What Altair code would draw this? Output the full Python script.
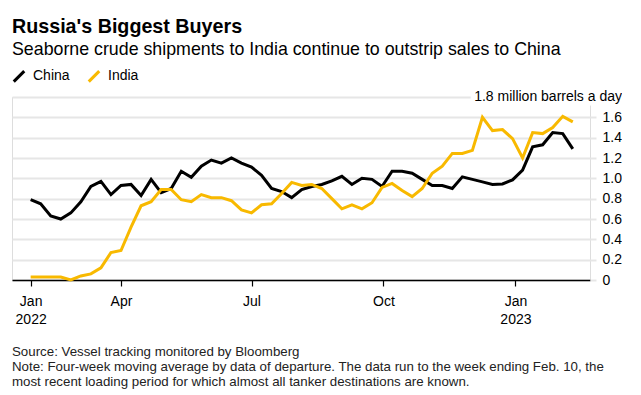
import altair as alt
import pandas as pd

# ---- data ----
start_date = "2022-01-28"  # weekly, weeks ending Friday, through 2023-02-10
china = [0.79, 0.75, 0.63, 0.60, 0.66, 0.77, 0.92, 0.97, 0.84, 0.93,
         0.94, 0.83, 0.99, 0.86, 0.90, 1.07, 1.01, 1.12, 1.18, 1.15,
         1.20, 1.15, 1.11, 1.03, 0.90, 0.87, 0.81, 0.89, 0.92, 0.94,
         0.975, 1.02, 0.94, 1.00, 0.99, 0.92, 1.07, 1.07, 1.05, 0.99,
         0.93, 0.93, 0.90, 1.015, 0.99, 0.965, 0.94, 0.945, 0.985, 1.08,
         1.31, 1.33, 1.45, 1.44, 1.29]
india = [0.03, 0.03, 0.03, 0.03, 0.0, 0.04, 0.06, 0.12, 0.27, 0.29,
         0.52, 0.73, 0.77, 0.89, 0.89, 0.79, 0.77, 0.84, 0.81, 0.81,
         0.78, 0.69, 0.66, 0.74, 0.75, 0.85, 0.96, 0.93, 0.94, 0.90,
         0.80, 0.70, 0.74, 0.70, 0.76, 0.91, 0.95, 0.88, 0.82, 0.90,
         1.05, 1.12, 1.245, 1.245, 1.275, 1.60, 1.47, 1.48, 1.39, 1.20,
         1.45, 1.44, 1.50, 1.61, 1.555]
series_names = ["China", "India"]
series_colors = ["#000000", "#f8b900"]
y_ticks = [0, 0.2, 0.4, 0.6, 0.8, 1.0, 1.2, 1.4, 1.6, 1.8]
unit_label = "1.8 million barrels a day"
title = "Russia's Biggest Buyers"
subtitle = "Seaborne crude shipments to India continue to outstrip sales to China"
footnote = ("Source: Vessel tracking monitored by Bloomberg\n"
            "Note: Four-week moving average by data of departure. The data run to the week ending Feb. 10, the\n"
            "most recent loading period for which almost all tanker destinations are known.")

dates = pd.date_range(start_date, periods=len(china), freq="7D")
df = pd.concat([
    pd.DataFrame({"date": dates.strftime("%Y-%m-%d"), "value": china, "series": "China"}),
    pd.DataFrame({"date": dates.strftime("%Y-%m-%d"), "value": india, "series": "India"}),
])

FONT = "Liberation Sans"
W, H = 578, 183

x_scale = alt.Scale(type="utc", domain=[alt.DateTime(year=2022, month=1, date=15, utc=True),
                                        alt.DateTime(year=2023, month=2, date=22, utc=True)])
y_scale = alt.Scale(domain=[0, 1.8], nice=False, zero=True)

x_axis = alt.Axis(
    values=[alt.DateTime(year=2022, month=1, date=28, utc=True),
            alt.DateTime(year=2022, month=4, date=1, utc=True),
            alt.DateTime(year=2022, month=7, date=1, utc=True),
            alt.DateTime(year=2022, month=10, date=1, utc=True),
            alt.DateTime(year=2023, month=1, date=1, utc=True)],
    labelExpr="utcmonth(datum.value) == 0 ? [utcFormat(datum.value, '%b'), utcFormat(datum.value, '%Y')] : utcFormat(datum.value, '%b')",
    title=None, grid=False, domainColor="#000", domainWidth=1.5,
    tickColor="#000", tickSize=6, tickWidth=1.2,
    labelFont=FONT, labelFontSize=14, labelColor="#000", labelPadding=8,
    labelLineHeight=18, labelFlush=False, labelOverlap=False,
)
y_axis = alt.Axis(
    orient="right", values=y_ticks, title=None, domain=False,
    labelExpr="datum.value >= 1.79 ? '' : (datum.value == 0 ? '0' : format(datum.value, '.1f'))",
    grid=True, gridColor="#e6e6e6", gridWidth=2,
    tickColor="#e6e6e6", tickSize=6, tickWidth=2,
    labelFont=FONT, labelFontSize=14, labelColor="#000", labelPadding=6, labelAlign="left",
    labelOverlap=False,
)

lines = alt.Chart(df).mark_line(strokeWidth=3).encode(
    x=alt.X("date:T", scale=x_scale, axis=x_axis),
    y=alt.Y("value:Q", scale=y_scale, axis=y_axis),
    color=alt.Color("series:N", scale=alt.Scale(domain=series_names, range=series_colors),
                    legend=alt.Legend(
                        title=None, orient="none", legendX=0, legendY=-28, direction="horizontal",
                        symbolType="M-1,1L1,-1", symbolSize=110, symbolStrokeWidth=3,
                        labelFont=FONT, labelFontSize=14, labelColor="#000",
                        columnPadding=12, labelOffset=7, padding=0)),
)

unit_df = pd.DataFrame({"t": [unit_label], "value": [1.8]})
unit_halo = alt.Chart(unit_df).mark_text(
    align="right", baseline="middle", font=FONT, fontSize=14,
    stroke="white", strokeWidth=9, fill="white",
).encode(x=alt.value(W + 32), y=alt.Y("value:Q", scale=y_scale, axis=y_axis), text="t:N")
unit_text = alt.Chart(unit_df).mark_text(
    align="right", baseline="middle", font=FONT, fontSize=14, color="#000",
).encode(x=alt.value(W + 32), y=alt.Y("value:Q", scale=y_scale, axis=y_axis), text="t:N")

note_df = pd.DataFrame({"t": [footnote]})
note = alt.Chart(note_df).mark_text(
    align="left", baseline="top", font=FONT, fontSize=13.3, color="#222",
    lineBreak="\n", lineHeight=15,
).encode(x=alt.value(0), y=alt.value(H + 65), text="t:N")

chart = alt.layer(lines, unit_halo, unit_text, note).properties(
    width=W, height=H,
    padding={"left": 4, "top": 8, "right": 0, "bottom": 0},
    title=alt.TitleParams(
        text=title, subtitle=subtitle, anchor="start", frame="group",
        font=FONT, fontSize=19.7, fontWeight="bold", color="#000",
        subtitleFont=FONT, subtitleFontSize=17.8, subtitleColor="#000",
        subtitlePadding=5, offset=10,
    ),
).configure_view(stroke=None).configure(background="white")

chart.save("out.html", embed_options={"renderer": "svg", "actions": False})
